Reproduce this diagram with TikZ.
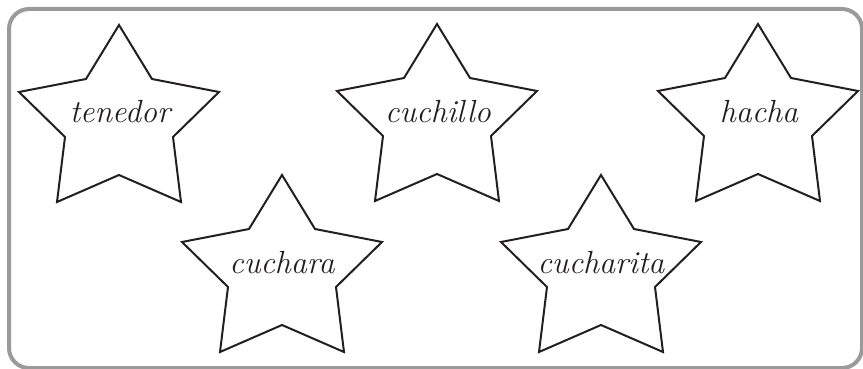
\documentclass[tikz,border=0pt]{standalone}
\definecolor{framegray}{HTML}{9A9A9A}
\definecolor{ink}{HTML}{231F20}
\tikzset{
  framebox/.style={draw=framegray, line width=4pt, rounded corners=20pt},
  starline/.style={draw=ink, line width=2pt, line join=miter},
  lbl/.style={anchor=base, inner sep=0pt, text=ink, font=\fontsize{32}{38}\selectfont\itshape}
}
\newcommand{\mystar}[2]{%
  \draw[starline, shift={(#1,#2)}] (0,0) -- (33,54) -- (100,67) -- (54,112) -- (62,177) -- (0,150) -- (-62,177) -- (-54,112) -- (-100,67) -- (-33,54) -- cycle;}
\begin{document}
\begin{tikzpicture}[x=1pt,y=-1pt]
\useasboundingbox (0,0) rectangle (863,369);
\begin{scope}
\clip (0,0) rectangle (863,369);
\draw[framebox] (9,9) rectangle (862,368);
\end{scope}
\mystar{119}{25}
\mystar{437}{24}
\mystar{758}{24}
\mystar{282}{175}
\mystar{601}{175}
\node[lbl] (tenedor) at (120,122) {tenedor};
\node[lbl] (cuchillo) at (438,122) {cuchillo};
\node[lbl] (hacha) at (759,122) {hacha};
\node[lbl] (cuchara) at (282,273) {cuchara};
\node[lbl] (cucharita) at (601,273) {cucharita};
\end{tikzpicture}
\end{document}
